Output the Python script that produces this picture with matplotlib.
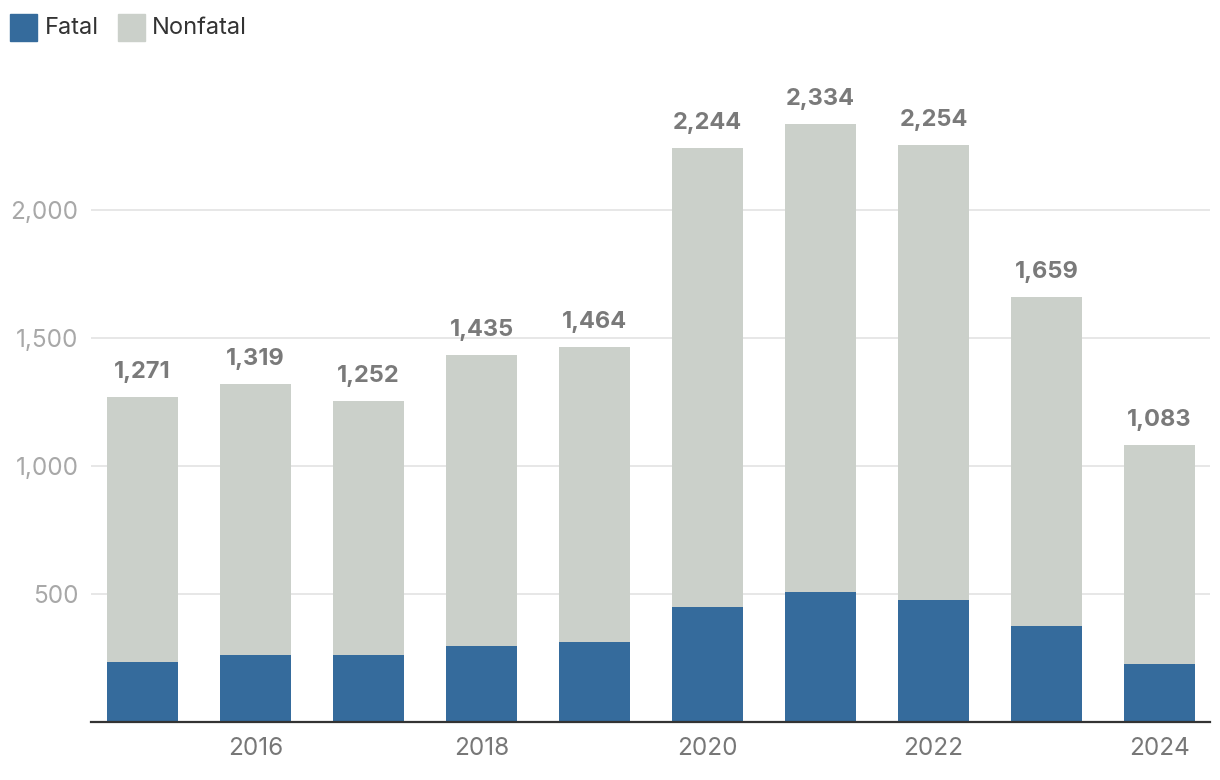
import matplotlib
matplotlib.use("Agg")
import matplotlib.pyplot as plt
from matplotlib.patches import Rectangle

years = [2015, 2016, 2017, 2018, 2019, 2020, 2021, 2022, 2023, 2024]
totals = [1271, 1319, 1252, 1435, 1464, 2244, 2334, 2254, 1659, 1083]
fatal = [233, 260, 260, 296, 311, 448, 507, 475, 374, 225]
nonfatal = [t - f for t, f in zip(totals, fatal)]
xtick_years = [2016, 2018, 2020, 2022, 2024]
yticks = [500, 1000, 1500, 2000]

FATAL_C = "#356b9c"
NONFATAL_C = "#cbd0ca"

plt.rcParams['font.family'] = ['Inter', 'DejaVu Sans']

fig = plt.figure(figsize=(12.2, 7.8), dpi=100)
ax = fig.add_axes([91/1220, (780-722)/780, (1210-91)/1220, 640/780])

ax.bar(years, fatal, width=0.628, color=FATAL_C, zorder=3)
ax.bar(years, nonfatal, bottom=fatal, width=0.628, color=NONFATAL_C, zorder=3)

for x, t in zip(years, totals):
    ax.annotate(f"{t:,}", (x, t), xytext=(0, 18), textcoords="offset points",
                ha="center", va="center", fontsize=17, fontweight="bold",
                color="#7a7a7a", zorder=4)

ax.set_xlim(2014.544, 2024.447)
ax.set_ylim(0, 2500)
ax.set_yticks(yticks)
ax.set_yticklabels([f"{v:,}" for v in yticks])
ax.set_xticks(xtick_years)
ax.set_xticklabels([str(y) for y in xtick_years])
ax.grid(axis="y", color="#e5e5e5", linewidth=1.3, zorder=0)
ax.tick_params(axis="y", length=0, pad=9, labelsize=17.5, labelcolor="#a8a8a8")
ax.tick_params(axis="x", length=0, pad=11, labelsize=17.5, labelcolor="#777777")
for s in ["top", "right", "left"]:
    ax.spines[s].set_visible(False)
ax.spines["bottom"].set_color("#333333")
ax.spines["bottom"].set_linewidth(1.6)
ax.spines["bottom"].set_zorder(5)

# legend
fig.patches.append(Rectangle((10/1220, 1-41/780), 27/1220, 27/780,
                             transform=fig.transFigure, color=FATAL_C, figure=fig))
fig.text(45/1220, 1-28/780, "Fatal", fontsize=17, color="#333333", va="center", ha="left")
fig.patches.append(Rectangle((118/1220, 1-41/780), 27/1220, 27/780,
                             transform=fig.transFigure, color=NONFATAL_C, figure=fig))
fig.text(152/1220, 1-28/780, "Nonfatal", fontsize=17, color="#333333", va="center", ha="left")

fig.savefig("out.png", dpi=100)
